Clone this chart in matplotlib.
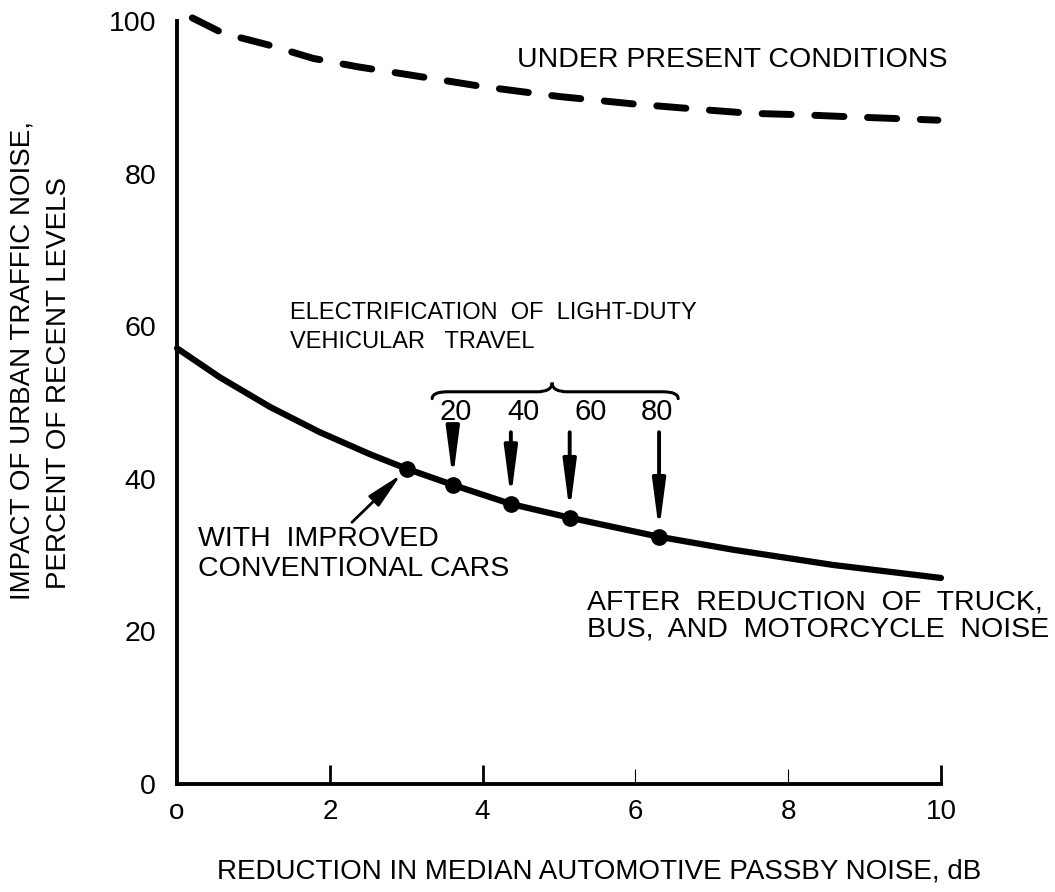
import matplotlib
matplotlib.use("Agg")
import matplotlib.pyplot as plt
from matplotlib import font_manager
from matplotlib.patches import FancyArrowPatch, PathPatch
from matplotlib.path import Path

# Impact of urban traffic noise (percent of recent levels) vs. passby noise reduction (dB)
present_x = [0.2, 0.6, 1.18, 1.78, 2.36, 3.0, 4.0, 5.0, 6.0, 6.98, 7.5, 8.19, 8.91, 9.96]
present_y = [100.4, 98.4, 96.9, 95.1, 94.0, 93.0, 91.4, 90.1, 89.1, 88.3, 87.9, 87.7, 87.4, 87.0]

reduced_x = [0.0, 0.56, 1.22, 1.87, 2.53, 3.01, 3.61, 4.37, 5.14, 6.31, 7.28, 8.59, 10.0]
reduced_y = [57.1, 53.3, 49.4, 46.1, 43.2, 41.3, 39.2, 36.7, 34.9, 32.4, 30.7, 28.7, 27.0]

improved_x, improved_y = 3.01, 41.3

# share of light-duty travel electrified (percent) and where it lands on the curve
electric_share = [20, 40, 60, 80]
electric_x = [3.61, 4.37, 5.14, 6.31]
electric_y = [39.2, 36.7, 34.9, 32.4]
share_label_x = [3.65, 4.53, 5.41, 6.28]

x_ticks = [0, 2, 4, 6, 8, 10]
x_tick_labels = ["o", "2", "4", "6", "8", "10"]
y_ticks = [0, 20, 40, 60, 80, 100]

plt.rcParams["font.family"] = ["Liberation Sans", "DejaVu Sans"]


def narrow_family():
    try:
        font_manager.findfont(font_manager.FontProperties(family="Liberation Sans Narrow"),
                              fallback_to_default=False)
        return ["Liberation Sans Narrow", "Liberation Sans"], 20
    except Exception:
        return ["Liberation Sans"], 17


fig = plt.figure(figsize=(10.55, 8.92), dpi=100)
ax = fig.add_axes([0.1678, 0.1211, 0.7241, 0.8554])
ax.set_xlim(0, 10)
ax.set_ylim(0, 100)

for side in ("top", "right"):
    ax.spines[side].set_visible(False)
for side in ("left", "bottom"):
    ax.spines[side].set_linewidth(2.8)

ax.set_xticks(x_ticks)
ax.set_xticklabels(x_tick_labels)
ax.set_yticks(y_ticks)
ax.tick_params(axis="x", direction="in", length=14, width=2, pad=11, labelsize=20)
ax.tick_params(axis="y", length=0, pad=15, labelsize=20.5)
xt = ax.xaxis.get_major_ticks()
xt[0].tick1line.set_visible(False)
for t in xt[3:5]:
    t.tick1line.set_markeredgewidth(0.8)
    t.tick1line.set_markersize(11)

# present conditions (dashed) and after heavy-vehicle reduction (solid)
ax.plot(present_x, present_y, color="black", lw=5, dashes=(4.2, 3.4),
        dash_capstyle="round", clip_on=False)
ax.plot(reduced_x, reduced_y, color="black", lw=4.5, solid_capstyle="round", clip_on=False)

ax.plot([improved_x] + electric_x, [improved_y] + electric_y, "o", color="black",
        markersize=11, clip_on=False)

ax.text(10.08, 94.9, "UNDER PRESENT CONDITIONS", ha="right", va="center", fontsize=20.5)

fam, fs = narrow_family()
ax.text(1.48, 59.8, "ELECTRIFICATION  OF  LIGHT-DUTY\nVEHICULAR   TRAVEL", family=fam,
        fontsize=fs, ha="left", va="center", linespacing=1.4)

ax.text(0.27, 30.1, "WITH  IMPROVED\nCONVENTIONAL CARS", ha="left", va="center",
        fontsize=20.5, linespacing=1.2)
ax.text(5.37, 21.95, "AFTER  REDUCTION  OF  TRUCK,\nBUS,  AND  MOTORCYCLE  NOISE",
        ha="left", va="center", fontsize=20.5, linespacing=1.05)

arrow_top = 46.1
for share, sx, x, y in zip(electric_share, share_label_x, electric_x, electric_y):
    ax.text(sx, 48.75, str(share), ha="center", va="center", fontsize=21)
    ax.add_patch(FancyArrowPatch((x, arrow_top), (x, y),
                                 arrowstyle="-|>,head_length=2.9,head_width=0.38",
                                 mutation_scale=10, lw=2.8, color="black",
                                 shrinkA=0, shrinkB=4))

ax.add_patch(FancyArrowPatch((2.29, 34.3), (improved_x, improved_y),
                             arrowstyle="-|>,head_length=2.2,head_width=0.45",
                             mutation_scale=10, lw=2, color="black",
                             shrinkA=0, shrinkB=6))

# curly brace grouping the electrification shares
x0, x1, xt_ = 3.34, 6.56, 4.91
yb, tip, hook, cw = 51.4, 1.2, 0.9, 0.2
verts = [
    (x0, yb - hook), (x0, yb), (x0 + cw, yb),
    (xt_ - cw, yb), (xt_, yb), (xt_, yb + tip),
    (xt_, yb), (xt_ + cw, yb),
    (x1 - cw, yb), (x1, yb), (x1, yb - hook),
]
codes = [
    Path.MOVETO, Path.CURVE3, Path.CURVE3,
    Path.LINETO, Path.CURVE3, Path.CURVE3,
    Path.CURVE3, Path.CURVE3,
    Path.LINETO, Path.CURVE3, Path.CURVE3,
]
ax.add_patch(PathPatch(Path(verts, codes), fill=False, lw=2.2, color="black",
                       capstyle="round"))

fig.text(599 / 1055, 1 - 872 / 892, "REDUCTION IN MEDIAN AUTOMOTIVE PASSBY NOISE, dB",
         ha="center", va="center", fontsize=20)
fig.text(23 / 1055, 1 - 360 / 892, "IMPACT OF URBAN TRAFFIC NOISE,", rotation=90,
         ha="center", va="center", fontsize=20)
fig.text(59 / 1055, 1 - 383 / 892, "PERCENT OF RECENT LEVELS", rotation=90,
         ha="center", va="center", fontsize=20)

fig.savefig("out.png", dpi=100)
